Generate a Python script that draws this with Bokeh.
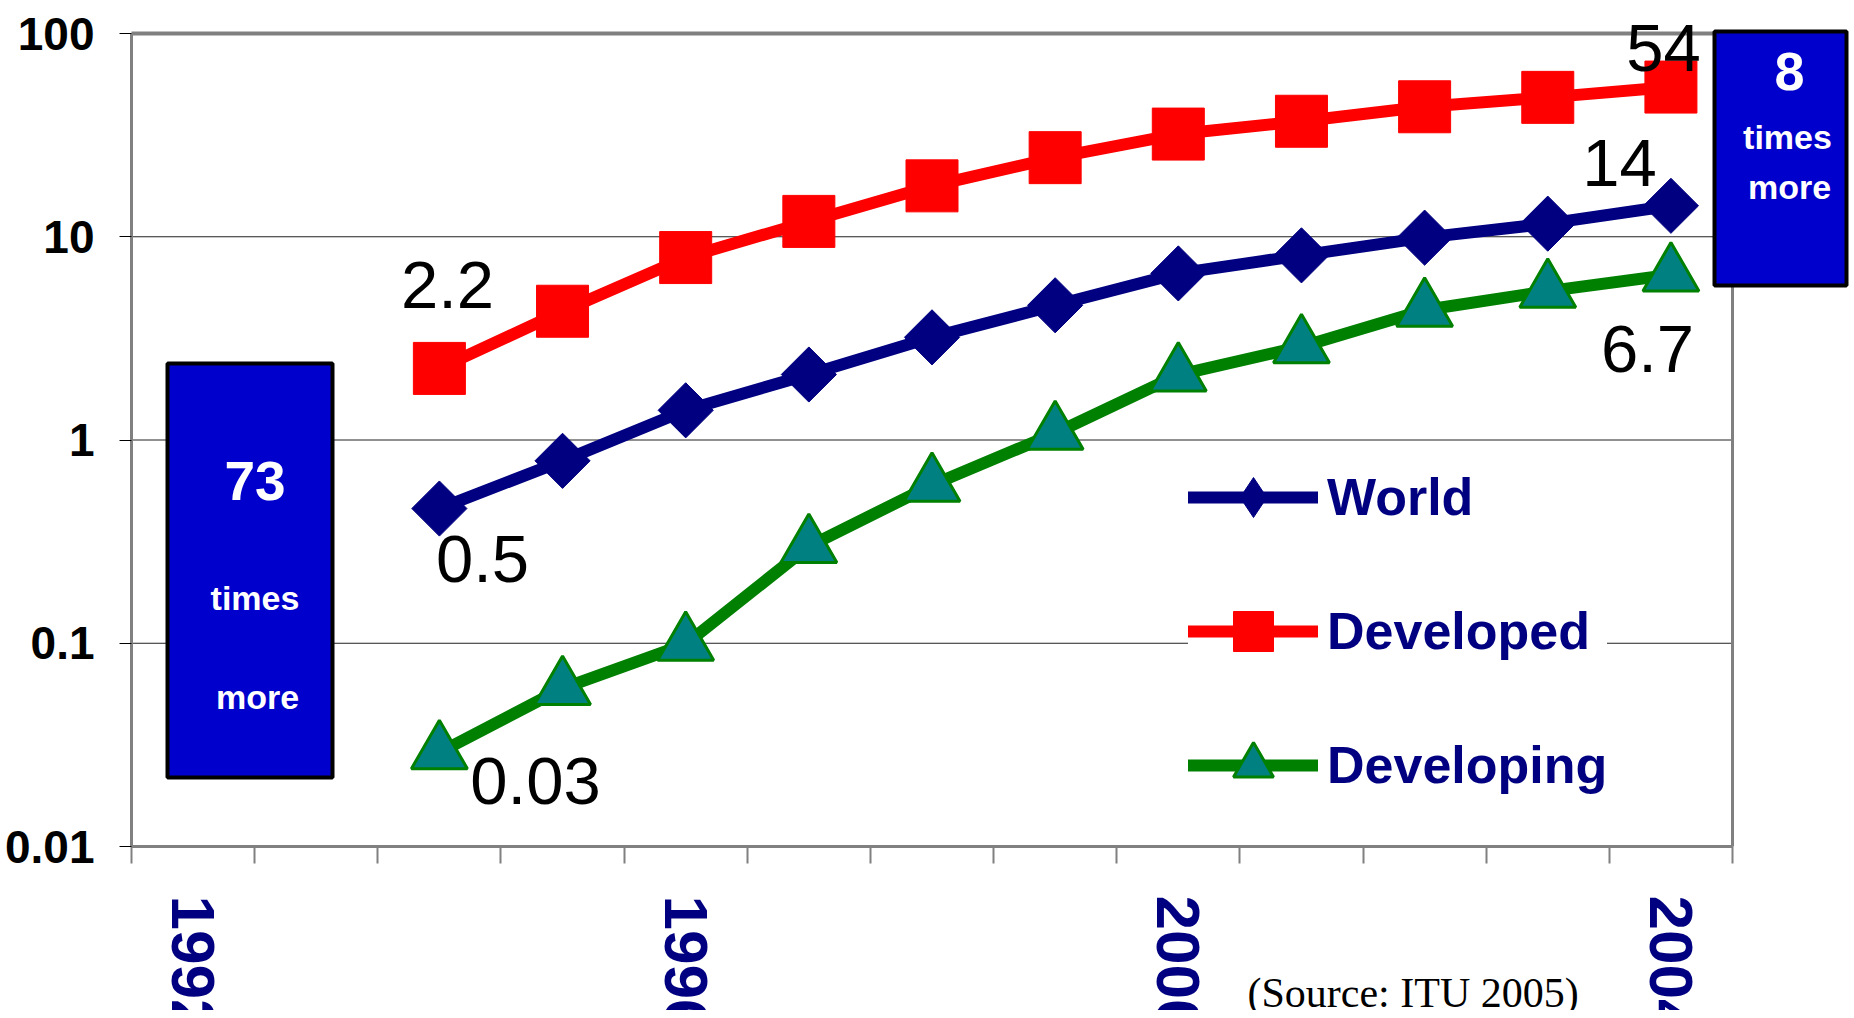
import math
from bokeh.plotting import figure
from bokeh.models import Range1d, FixedTicker, CustomJSTickFormatter
from bokeh.core.properties import value
from bokeh.embed import file_html
from bokeh.resources import INLINE

# ---------------- data ----------------
years = [1994, 1995, 1996, 1997, 1998, 1999, 2000, 2001, 2002, 2003, 2004]
world = [0.46, 0.79, 1.4, 2.1, 3.2, 4.6, 6.6, 8.1, 9.9, 11.6, 14.2]
developed = [2.25, 4.3, 7.9, 11.9, 17.8, 24.5, 32, 37, 43.6, 48.5, 54.5]
developing = [0.029, 0.06, 0.099, 0.30, 0.60, 1.08, 2.09, 2.88, 4.36, 5.4, 6.5]
series_names = ["World", "Developed", "Developing"]

axis_years = list(range(1992, 2005))
year_labels = [1992, 1996, 2000, 2004]
y_ticks = [0.01, 0.1, 1, 10, 100]

start_labels = ["0.5", "2.2", "0.03"]
end_labels = ["14", "54", "6.7"]
left_box_text = ["73", "times", "more"]
right_box_text = ["8", "times", "more"]
source_text = "(Source: ITU 2005)"

# ---------------- layout (pixels) ----------------
W, H = 1850, 1010
PX_L, PX_R, PY_T, PY_B = 131, 1732, 33, 846   # plot-area edges on the canvas
X0, X1 = axis_years[0] - 0.5, axis_years[-1] + 0.5
LY0, LY1 = math.log10(y_ticks[0]), math.log10(y_ticks[-1])
SX = (PX_R - PX_L) / (X1 - X0)
SY = (PY_B - PY_T) / (LY1 - LY0)


def dx(px):
    return X0 + (px - PX_L) / SX


def dy(py):
    return 10 ** (LY1 - (py - PY_T) / SY)


ARIAL = "Liberation Sans"
SERIF = "Liberation Serif"
NAVY = "#000080"
GRAY = "#808080"
RED = "#FF0000"
GREEN = "#008000"
TEAL = "#008080"

p = figure(width=W, height=H, y_axis_type="log",
           x_range=Range1d(dx(0), dx(W)), y_range=Range1d(dy(H), dy(0)),
           output_backend="svg", toolbar_location=None, min_border=0)
p.outline_line_color = None
p.background_fill_color = "white"
p.border_fill_color = "white"
p.xgrid.visible = False
p.ygrid.visible = False

# ---------------- y axis (inside the canvas) ----------------
p.yaxis.fixed_location = X0
p.yaxis.bounds = (y_ticks[0], y_ticks[-1])
p.yaxis.ticker = FixedTicker(ticks=y_ticks, minor_ticks=[])
p.yaxis.formatter = CustomJSTickFormatter(code="return tick.toString();")
p.yaxis.axis_line_color = GRAY
p.yaxis.axis_line_width = 3
p.yaxis.major_tick_line_color = "black"
p.yaxis.major_tick_out = 12
p.yaxis.major_tick_in = 0
p.yaxis.minor_tick_line_color = None
p.yaxis.major_label_text_font = ARIAL
p.yaxis.major_label_text_font_style = "bold"
p.yaxis.major_label_text_font_size = "46px"
p.yaxis.major_label_text_color = "black"
p.yaxis.major_label_standoff = 25

# ---------------- x axis ----------------
bounds = [y - 0.5 for y in axis_years] + [axis_years[-1] + 0.5]
p.xaxis.fixed_location = y_ticks[0]
p.xaxis.bounds = (X0, X1)
p.xaxis.ticker = FixedTicker(ticks=year_labels, minor_ticks=bounds)
p.xaxis.axis_line_color = GRAY
p.xaxis.axis_line_width = 3
p.xaxis.major_tick_line_color = None
p.xaxis.major_tick_out = 0
p.xaxis.major_tick_in = 0
p.xaxis.minor_tick_line_color = GRAY
p.xaxis.minor_tick_line_width = 2
p.xaxis.minor_tick_out = 17
p.xaxis.minor_tick_in = 0
p.xaxis.major_label_orientation = -math.pi / 2
p.xaxis.major_label_standoff = 32
p.xaxis.major_label_text_font = ARIAL
p.xaxis.major_label_text_font_style = "bold"
p.xaxis.major_label_text_font_size = "62px"
p.xaxis.major_label_text_color = NAVY

# ---------------- grid lines and frame ----------------
inner = y_ticks[1:-1]
p.segment(x0=[X0] * len(inner), x1=[X1] * len(inner), y0=inner, y1=inner,
          line_color="#222222", line_width=1)
p.segment(x0=[X0], x1=[X1], y0=[y_ticks[-1]], y1=[y_ticks[-1]],
          line_color=GRAY, line_width=4)
p.segment(x0=[X1], x1=[X1], y0=[y_ticks[0]], y1=[y_ticks[-1]],
          line_color=GRAY, line_width=3)

# ---------------- boxes ----------------
BOX = "#0000CC"
p.quad(left=[dx(167), dx(1714)], right=[dx(332), dx(1846)],
       top=[dy(363), dy(31)], bottom=[dy(777), dy(285)],
       fill_color=BOX, line_color="black", line_width=4)

# ---------------- series ----------------
LW = 12
p.line(years, world, line_color=NAVY, line_width=LW, line_join="round",
       line_cap="round", legend_label=series_names[0])
# legend diamond (hidden under the chart markers)
p.scatter(years, world, marker="diamond", size=40,
          fill_color=NAVY, line_color=NAVY, legend_label=series_names[0])
p.scatter(years, world, marker="square", angle=math.pi / 4, size=39,
          fill_color=NAVY, line_color=NAVY)

p.line(years, developed, line_color=RED, line_width=LW, line_join="round",
       line_cap="round", legend_label=series_names[1])
p.scatter(years, developed, marker="square", size=52,
          fill_color=RED, line_color=RED, legend_label=series_names[1])

p.line(years, developing, line_color=GREEN, line_width=LW, line_join="round",
       line_cap="round", legend_label=series_names[2])
p.scatter(years, developing, marker="triangle", size=56, fill_color=TEAL,
          line_color=GREEN, line_width=3, legend_label=series_names[2])

lg = p.legend[0]
lg.location = (1188, 195)
lg.glyph_width = 130
lg.glyph_height = 100
lg.label_height = 100
lg.label_standoff = 9
lg.spacing = 34
lg.padding = 14
lg.margin = 0
lg.border_line_color = None
lg.background_fill_color = "white"
lg.background_fill_alpha = 1
lg.label_text_font = ARIAL
lg.label_text_font_style = "bold"
lg.label_text_font_size = "52px"
lg.label_text_color = NAVY


# ---------------- texts ----------------
def txt(px, py, s, size, color, font=ARIAL, style="normal", align="center"):
    p.text(x=[dx(px)], y=[dy(py)], text=[s], text_font=value(font),
           text_font_size=value(f"{size}px"), text_font_style=style,
           text_color=color, text_align=align, text_baseline="middle")


txt(254.5, 480, left_box_text[0], 55, "white", style="bold")
txt(254.5, 597, left_box_text[1], 34, "white", style="bold")
txt(257, 696, left_box_text[2], 34, "white", style="bold")

txt(1789, 71, right_box_text[0], 54, "white", style="bold")
txt(1787, 136, right_box_text[1], 34, "white", style="bold")
txt(1789, 186, right_box_text[2], 34, "white", style="bold")

txt(482, 558, start_labels[0], 67, "black")
txt(447, 284, start_labels[1], 67, "black")
txt(535, 780, start_labels[2], 67, "black")
txt(1619, 162, end_labels[0], 67, "black")
txt(1663, 47, end_labels[1], 67, "black")
txt(1647, 348, end_labels[2], 67, "black")

txt(1247, 992, source_text, 42, "black", font=SERIF, align="left")

open("out.html", "w").write(file_html(p, INLINE))
